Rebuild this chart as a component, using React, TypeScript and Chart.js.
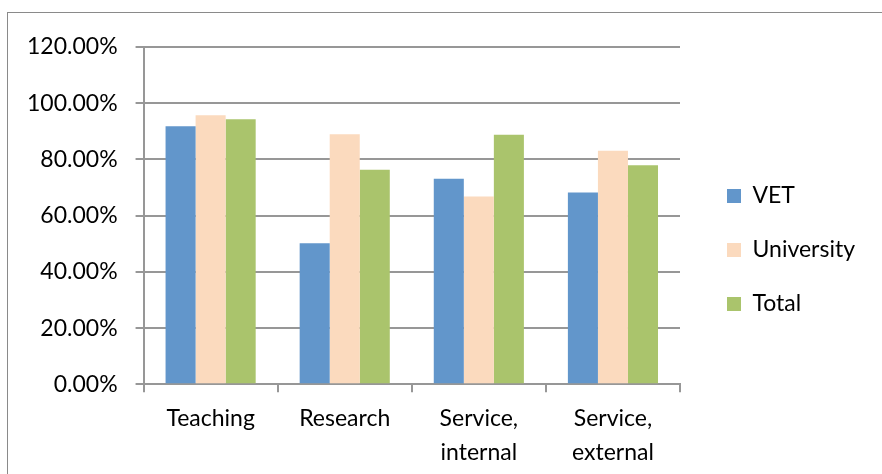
import React, { useEffect, useRef } from 'react';
import { Chart, registerables } from 'chart.js';

Chart.register(...registerables);

const categories: (string | string[])[] = ['Teaching', 'Research', ['Service,', 'internal'], ['Service,', 'external']];
const vetValues = [91.8, 50.2, 73.1, 68.2];
const universityValues = [95.7, 89.0, 66.8, 83.1];
const totalValues = [94.3, 76.3, 88.8, 77.9];
const seriesNames = ['VET', 'University', 'Total'];
const seriesColors = ['#6296CB', '#FBDABE', '#AAC46C'];
const yMin = 0;
const yMax = 120;
const yStep = 20;

const FONT = 'Lato, "Open Sans", sans-serif';
const GRID = '#979797';
const LEGEND_DX = 16;
const LEGEND_DY = -13;

const legendShift = {
  id: 'legendShift',
  afterLayout(chart: any) {
    const lg = chart.legend;
    if (!lg) return;
    lg.left += LEGEND_DX;
    lg.right += LEGEND_DX;
    lg.top += LEGEND_DY;
    lg.bottom += LEGEND_DY;
  },
};

export default function App() {
  const canvasRef = useRef<HTMLCanvasElement | null>(null);

  useEffect(() => {
    let chart: Chart | null = null;
    let cancelled = false;
    const build = () => {
      if (cancelled || !canvasRef.current) return;
      const seriesValues = [vetValues, universityValues, totalValues];
      chart = new Chart(canvasRef.current, {
        type: 'bar',
        data: {
          labels: categories as any,
          datasets: seriesNames.map((name, i) => ({
            label: name,
            data: seriesValues[i],
            backgroundColor: seriesColors[i],
            borderWidth: 0,
            categoryPercentage: 0.672,
            barPercentage: 1.0,
          })),
        },
        options: {
          animation: false,
          responsive: false,
          maintainAspectRatio: false,
          devicePixelRatio: 1,
          layout: { padding: { left: 9, top: 47, right: 33, bottom: 21 } },
          plugins: {
            tooltip: { enabled: false },
            legend: {
              position: 'right',
              align: 'center',
              labels: {
                boxWidth: 14,
                boxHeight: 14,
                padding: 31,
                color: '#000',
                font: { family: FONT, size: 23 },
              },
            },
          },
          scales: {
            x: {
              offset: true,
              ticks: {
                color: '#000',
                font: { family: FONT, size: 23, lineHeight: 1.45 },
                padding: 10,
                maxRotation: 0,
                autoSkip: false,
              },
              grid: {
                display: true,
                offset: true,
                drawOnChartArea: false,
                drawTicks: true,
                tickLength: 8,
                color: GRID,
                lineWidth: 2,
              },
              border: { display: true, color: GRID, width: 2 },
            },
            y: {
              min: yMin,
              max: yMax,
              ticks: {
                stepSize: yStep,
                color: '#000',
                font: { family: FONT, size: 23 },
                padding: 18,
                callback: (v: any) => Number(v).toFixed(2) + '%',
              },
              grid: {
                color: GRID,
                lineWidth: 2,
                drawTicks: true,
                tickLength: 8,
              },
              border: { display: true, color: GRID, width: 2 },
            },
          },
        },
        plugins: [legendShift],
      });
    };
    const fontsApi = (document as any).fonts;
    if (fontsApi && fontsApi.load) {
      Promise.all([fontsApi.load('23px Lato')])
        .catch(() => null)
        .then(() => build());
    } else {
      build();
    }
    return () => {
      cancelled = true;
      if (chart) chart.destroy();
    };
  }, []);

  return (
    <div style={{ position: 'fixed', left: 0, top: 0, width: 882, height: 474, overflow: 'hidden', background: '#fff' }}>
      <div style={{ position: 'absolute', left: 7, top: 12, width: 900, height: 520, border: '1px solid #8a8a8a', boxSizing: 'border-box' }} />
      <canvas ref={canvasRef} width={882} height={500} style={{ position: 'absolute', left: 0, top: 0, width: 882, height: 500 }} />
    </div>
  );
}
